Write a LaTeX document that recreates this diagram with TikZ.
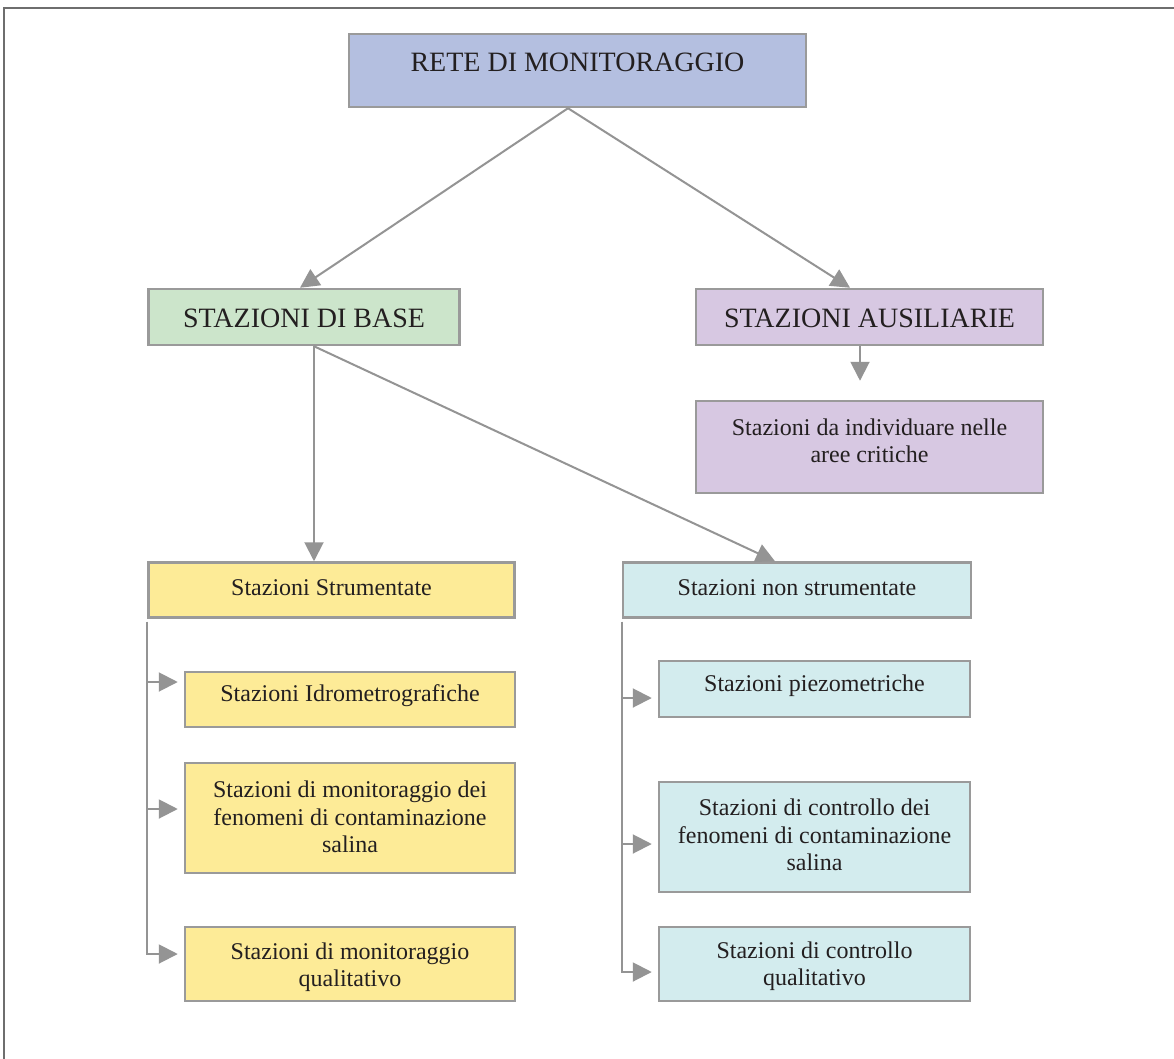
\documentclass[tikz,border=0pt]{standalone}
\usepackage{fontspec}
\setmainfont{Liberation Serif}
\usetikzlibrary{arrows.meta}
\definecolor{txtc}{HTML}{231F20}
\definecolor{bordc}{HTML}{9A9A9A}
\definecolor{arrc}{HTML}{949494}
\definecolor{framec}{HTML}{6E6E6E}
\definecolor{topf}{HTML}{B4BFE0}
\definecolor{greenf}{HTML}{CCE5CB}
\definecolor{purpf}{HTML}{D7C8E2}
\definecolor{yellf}{HTML}{FDEB97}
\definecolor{cyanf}{HTML}{D3ECEE}
\tikzset{
  boxnode/.style={draw=bordc, line width=2.5pt, rectangle, inner sep=0pt},
  bigtxt/.style={text=txtc, font=\fontsize{28}{32}\selectfont, inner sep=0pt},
  smalltxt/.style={text=txtc, font=\fontsize{24}{27.5}\selectfont, align=center, inner sep=0pt},
  arr/.style={draw=arrc, line width=2pt, -{Triangle[length=19pt,width=19pt]}},
  sidearr/.style={arr, shorten >=6pt},
}
\begin{document}
\begin{tikzpicture}[x=1pt,y=-1pt]
\useasboundingbox (0,0) rectangle (1174,1059);
\clip (0,0) rectangle (1174,1059);
\fill[white] (0,0) rectangle (1174,1059);
\draw[framec, line width=1.5pt] (4,8) rectangle (1200,1090);

% boxes
\node[boxnode, fill=topf, minimum width=457pt, minimum height=73pt] (top) at (577.5,70.5) {};
\node[bigtxt] (topt) at (577.5,62.5) {RETE DI MONITORAGGIO};

\node[boxnode, fill=greenf, minimum width=311pt, minimum height=56pt] (base) at (304,317) {};
\node[bigtxt] (baset) at (304,318.5) {STAZIONI DI BASE};

\node[boxnode, fill=purpf, minimum width=347pt, minimum height=56pt] (aus) at (869.5,317) {};
\node[bigtxt] (aust) at (869.5,318.5) {STAZIONI AUSILIARIE};

\node[boxnode, fill=purpf, minimum width=347pt, minimum height=92pt] (indiv) at (869.5,447) {};
\node[smalltxt] (indivt) at (869.5,441) {Stazioni da individuare nelle\\aree critiche};

\node[boxnode, fill=yellf, minimum width=366pt, minimum height=55pt] (ss) at (331.5,590) {};
\node[smalltxt] (sst) at (331.5,587.4) {Stazioni Strumentate};

\node[boxnode, fill=cyanf, minimum width=348pt, minimum height=55pt] (ns) at (797,590) {};
\node[smalltxt] (nst) at (797,587.4) {Stazioni non strumentate};

\node[boxnode, fill=yellf, minimum width=330pt, minimum height=55pt] (idro) at (350,699.5) {};
\node[smalltxt] (idrot) at (350,696) {Stazioni Idrometrografiche};

\node[boxnode, fill=yellf, minimum width=330pt, minimum height=110pt] (lcont) at (350,818) {};
\node[smalltxt] (lcontt) at (350,817) {Stazioni di monitoraggio dei\\fenomeni di contaminazione\\salina};

\node[boxnode, fill=yellf, minimum width=330pt, minimum height=74pt] (lqual) at (350,964) {};
\node[smalltxt] (lqualt) at (350,967) {Stazioni di monitoraggio\\qualitativo};

\node[boxnode, fill=cyanf, minimum width=311pt, minimum height=56pt] (piez) at (814.5,689) {};
\node[smalltxt] (piezt) at (814.5,686) {Stazioni piezometriche};

\node[boxnode, fill=cyanf, minimum width=311pt, minimum height=110pt] (rcont) at (814.5,837) {};
\node[smalltxt] (rcontt) at (814.5,835) {Stazioni di controllo dei\\fenomeni di contaminazione\\salina};

\node[boxnode, fill=cyanf, minimum width=311pt, minimum height=74pt] (rqual) at (814.5,964) {};
\node[smalltxt] (rqualt) at (814.5,966) {Stazioni di controllo\\qualitativo};

% connectors
\draw[arr] ([xshift=-9.5pt]top.south) -- ([xshift=-4pt]base.north);
\draw[arr] ([xshift=-9.5pt]top.south) -- ([xshift=-19.5pt]aus.north);
\draw[arr] ([xshift=-9.5pt]aus.south) -- ([xshift=-9.5pt,yshift=19pt]indiv.north);
\draw[arr] ([xshift=10pt]base.south) -- ([xshift=-17.5pt]ss.north);
\draw[arr] ([xshift=10pt]base.south) -- ([xshift=-22pt]ns.north);

\draw[sidearr] ([yshift=-3pt]ss.south west) |- ([yshift=17.5pt]idro.west);
\draw[sidearr] ([yshift=-3pt]ss.south west) |- ([yshift=9pt]lcont.west);
\draw[sidearr] ([yshift=-3pt]ss.south west) |- ([yshift=10pt]lqual.west);

\draw[sidearr] ([yshift=-3pt]ns.south west) |- ([yshift=-9pt]piez.west);
\draw[sidearr] ([yshift=-3pt]ns.south west) |- ([yshift=-7pt]rcont.west);
\draw[sidearr] ([yshift=-3pt]ns.south west) |- ([yshift=-8pt]rqual.west);
\end{tikzpicture}
\end{document}
